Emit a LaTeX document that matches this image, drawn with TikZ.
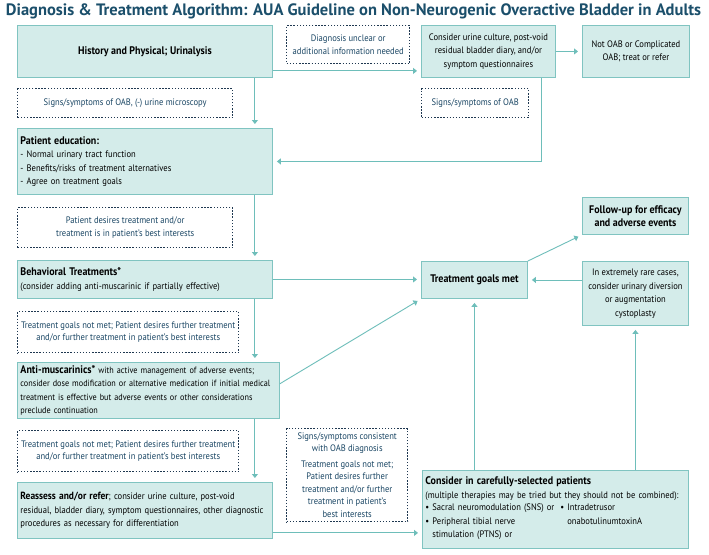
\documentclass[tikz,border=0pt]{standalone}
\usepackage{fontspec}
\setmainfont{PT Sans}[FakeStretch=0.91]
\newfontfamily\titlefont{PT Sans}
\usetikzlibrary{arrows.meta}
\definecolor{boxfill}{HTML}{D4ECEA}
\definecolor{boxline}{HTML}{80C4C1}
\definecolor{flow}{HTML}{6EBEBA}
\definecolor{notedraw}{HTML}{1E3750}
\definecolor{notetext}{HTML}{1A4664}
\definecolor{titleblue}{HTML}{1B4F6B}
\newcommand\hd{\fontsize{11}{13.5}\selectfont\bfseries}
\tikzset{
  box/.style={rectangle,draw=boxline,fill=boxfill,line width=0.9pt,anchor=north west,inner sep=3pt,
    font=\fontsize{9.4}{13.5}\selectfont},
  note/.style={rectangle,draw=notedraw,line width=1.4pt,dash pattern=on 1.4pt off 1.7pt,anchor=north west,
    align=center,text=notetext,font=\fontsize{9.4}{12.5}\selectfont},
  arr/.style={draw=flow,line width=0.9pt,-{Triangle[length=4pt,width=6pt]},shorten >=4pt}
}
\begin{document}
\begin{tikzpicture}[x=1pt,y=-1pt]
  \fill[white] (0,0) rectangle (709,554);
  \useasboundingbox (0,0) rectangle (709,554);
  \node[font={\titlefont\fontsize{16.5}{18}\selectfont\bfseries},text=titleblue,inner sep=0pt] (title) at (353.5,11)
    {Diagnosis \& Treatment Algorithm: AUA Guideline on Non-Neurogenic Overactive Bladder in Adults};
  % top row
  \node[box,minimum width=255pt,minimum height=52pt,font=\hd] (hist) at (17,25) {History and Physical; Urinalysis};
  \node[note,minimum width=123pt,minimum height=38pt] (unclear) at (286,25) {Diagnosis unclear or\\additional information needed};
  \node[box,minimum width=134pt,minimum height=52pt,align=center] (urine) at (421,25)
    {Consider urine culture, post-void\\residual bladder diary, and/or\\symptom questionnaires};
  \node[box,minimum width=107pt,minimum height=52pt,align=center] (notoab) at (582,25) {Not OAB or Complicated\\OAB; treat or refer};
  \node[note,minimum width=215pt,minimum height=29pt] (signs) at (17,88) {Signs/symptoms of OAB, (-) urine microscopy};
  \node[note,minimum width=107pt,minimum height=29pt] (signsoab) at (421,88) {Signs/symptoms of OAB};
  % left column
  \node[box,minimum width=255pt,minimum height=66pt,text width=249pt,align=left] (educ) at (17,128)
    {{\hd Patient education:}\\- Normal urinary tract function\\- Benefits/risks of treatment alternatives\\- Agree on treatment goals};
  \node[note,minimum width=215pt,minimum height=40pt] (desires) at (17,207)
    {Patient desires treatment and/or\\treatment is in patient’s best interests};
  \node[box,minimum width=255pt,minimum height=38pt,text width=249pt,align=left] (behav) at (17,260)
    {{\hd Behavioral Treatments*}\\(consider adding anti-muscarinic if partially effective)};
  \node[note,minimum width=221pt,minimum height=41pt] (notmet) at (17,311)
    {Treatment goals not met; Patient desires further treatment\\and/or further treatment in patient’s best interests};
  \node[box,minimum width=261pt,minimum height=55pt,text width=256pt,align=left,font=\fontsize{9}{13.5}\selectfont] (anti) at (17,362)
    {{\hd Anti-muscarinics*} with active management of adverse events;\\consider dose modification or alternative medication if initial medical\\treatment is effective but adverse events or other considerations\\preclude continuation};
  \node[note,minimum width=221pt,minimum height=41pt] (notmetb) at (17,430)
    {Treatment goals not met; Patient desires further treatment\\and/or further treatment in patient’s best interests};
  \node[box,minimum width=255pt,minimum height=56pt,text width=249pt,align=left] (reassess) at (17,482)
    {{\fontsize{10.4}{13.5}\selectfont\bfseries Reassess and/or refer}; consider urine culture, post-void\\residual, bladder diary, symptom questionnaires, other diagnostic\\procedures as necessary for differentiation};
  \node[note,minimum width=121pt,minimum height=93pt] (consistent) at (286,428)
    {Signs/symptoms consistent\\with OAB diagnosis\\[3pt]Treatment goals not met;\\Patient desires further\\treatment and/or further\\treatment in patient’s\\best interests};
  % right side
  \node[box,minimum width=106pt,minimum height=37pt,font=\hd] (goals) at (421,261) {Treatment goals met};
  \node[box,minimum width=106pt,minimum height=37pt,font=\hd,align=center] (follow) at (582,197) {Follow-up for efficacy\\and adverse events};
  \node[box,minimum width=106pt,minimum height=64pt,align=center] (rare) at (582,261)
    {In extremely rare cases,\\consider urinary diversion\\or augmentation\\cystoplasty};
  \node[box,minimum width=266pt,minimum height=78pt,text width=260pt,align=left] (careful) at (422,470)
    {{\hd Consider in carefully-selected patients}\\(multiple therapies may be tried but they should not be combined):\\
     \begin{tabular}{@{}l@{\hspace{6pt}}l@{}}
       \textbullet~Sacral neuromodulation (SNS) or & \textbullet~Intradetrusor\\
       \textbullet~Peripheral tibial nerve & \phantom{\textbullet~}onabotulinumtoxinA\\
       \phantom{\textbullet~}stimulation (PTNS) or &
     \end{tabular}};
  % connectors
  \draw[arr] ([yshift=7pt]hist.south east) -- ([yshift=7pt]urine.south west);
  \draw[arr] (urine.east) -- (notoab.west);
  \draw[arr] ([xshift=-18pt]hist.south east) -- ([xshift=-18pt]educ.north east);
  \draw[arr] ([xshift=-14pt]urine.south east) |- (educ.east);
  \draw[arr] ([xshift=-18pt]educ.south east) -- ([xshift=-18pt]behav.north east);
  \draw[arr] ([xshift=-18pt]behav.south east) -- ([xshift=-18pt]behav.south east |- anti.north);
  \draw[arr] ([xshift=-18pt]behav.south east |- anti.south) -- ([xshift=-18pt]reassess.north east);
  \draw[arr] (behav.east) -- (behav.east -| goals.west);
  \draw[arr] (anti.3) -- (goals.south west);
  \draw[arr] (goals.north east) -- (follow.south west);
  \draw[arr] (rare.west |- goals.east) -- (goals.east);
  \draw[arr] (goals.south |- careful.north) -- (goals.south);
  \draw[arr] (rare.south |- careful.north) -- (rare.south);
  \coordinate (rout) at ([yshift=6pt]reassess.south east);
  \draw[arr] (rout) -- (rout -| careful.west);
\end{tikzpicture}
\end{document}
